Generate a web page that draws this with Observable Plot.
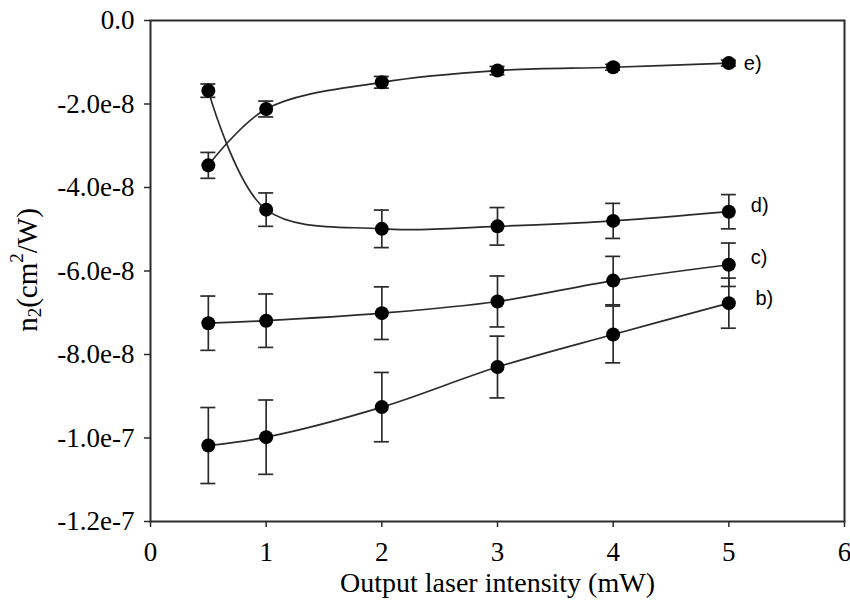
<!DOCTYPE html>
<html>
<head>
<meta charset="utf-8">
<script src="https://cdn.jsdelivr.net/npm/d3@7"></script>
<script src="https://cdn.jsdelivr.net/npm/@observablehq/plot@0.6"></script>
<style>
  html, body { margin: 0; padding: 0; background: #fff; }
</style>
</head>
<body>
<div id="chart"></div>
<script>
// Output laser intensity (mW)
const intensity = [0.5, 1, 2, 3, 4, 5];

// n2 values (cm^2/W) and error half-widths for each series
const seriesB = [-1.018e-7, -9.98e-8, -9.26e-8, -8.30e-8, -7.52e-8, -6.77e-8];
const errB    = [9.1e-9, 8.9e-9, 8.3e-9, 7.4e-9, 6.8e-9, 6.0e-9];
const seriesC = [-7.25e-8, -7.19e-8, -7.01e-8, -6.73e-8, -6.23e-8, -5.85e-8];
const errC    = [6.5e-9, 6.4e-9, 6.3e-9, 6.1e-9, 5.8e-9, 5.2e-9];
const seriesD = [-1.68e-8, -4.53e-8, -4.99e-8, -4.93e-8, -4.80e-8, -4.58e-8];
const errD    = [1.6e-9, 4.0e-9, 4.5e-9, 4.5e-9, 4.2e-9, 4.1e-9];
const seriesE = [-3.47e-8, -2.12e-8, -1.48e-8, -1.20e-8, -1.12e-8, -1.02e-8];
const errE    = [3.1e-9, 1.9e-9, 1.4e-9, 1.0e-9, 0.7e-9, 0.7e-9];

const seriesNames = ["b)", "c)", "d)", "e)"];
// label anchor positions (data units)
const labelX = [5.23, 5.19, 5.19, 5.13];
const labelY = [-6.66e-8, -5.69e-8, -4.43e-8, -1.03e-8];

const yTicks = [0, -2e-8, -4e-8, -6e-8, -8e-8, -1e-7, -1.2e-7];
const xTicks = [0, 1, 2, 3, 4, 5, 6];

const allSeries = [seriesB, seriesC, seriesD, seriesE];
const allErr = [errB, errC, errD, errE];
const rows = [];
allSeries.forEach((vals, si) => {
  vals.forEach((v, i) => {
    rows.push({series: seriesNames[si], x: intensity[i], y: v, e: allErr[si][i]});
  });
});
const labels = seriesNames.map((n, i) => ({name: n, x: labelX[i], y: labelY[i]}));

const capHalf = 0.065;
const ink = "#2b2b2b";
const serif = "'Liberation Serif', 'Times New Roman', serif";

const chart = Plot.plot({
  width: 850,
  height: 607,
  marginLeft: 150,
  marginRight: 6,
  marginTop: 20,
  marginBottom: 86,
  style: {fontFamily: serif, fontSize: "27px", background: "#fff", color: "#000"},
  x: {domain: [0, 6], ticks: xTicks},
  y: {domain: [-1.2e-7, 0], ticks: yTicks},
  marks: [
    Plot.axisX({ticks: xTicks, tickSize: 6, tickPadding: 14, tickFormat: d => String(d), label: null, stroke: ink, strokeWidth: 1.5, fontSize: 27, fontFamily: serif, fontVariant: "normal"}),
    Plot.axisY({ticks: yTicks, tickSize: 6, tickPadding: 10, tickFormat: d => d === 0 ? "0.0" : d.toExponential(1), label: null, stroke: ink, strokeWidth: 1.5, fontSize: 27, fontFamily: serif, fontVariant: "normal"}),
    Plot.frame({stroke: ink, strokeWidth: 2}),
    Plot.line(rows, {x: "x", y: "y", z: "series", curve: "catmull-rom", stroke: ink, strokeWidth: 1.7}),
    Plot.ruleX(rows, {x: "x", y1: d => d.y - d.e, y2: d => d.y + d.e, stroke: ink, strokeWidth: 1.7}),
    Plot.ruleY(rows, {y: d => d.y - d.e, x1: d => d.x - capHalf, x2: d => d.x + capHalf, stroke: ink, strokeWidth: 1.7}),
    Plot.ruleY(rows, {y: d => d.y + d.e, x1: d => d.x - capHalf, x2: d => d.x + capHalf, stroke: ink, strokeWidth: 1.7}),
    Plot.dot(rows, {x: "x", y: "y", r: 7, fill: "#000", stroke: "none"}),
    Plot.text(labels, {x: "x", y: "y", text: "name", textAnchor: "start", fontSize: 20, fontFamily: "'Liberation Sans', Arial, sans-serif", fill: "#000"}),
    Plot.text(["Output laser intensity (mW)"], {frameAnchor: "bottom", dy: 70, fontSize: 28, fontFamily: serif, fill: "#000"})
  ]
});

document.getElementById("chart").appendChild(chart);

const svg = d3.select(chart);
// force serif tick labels
svg.selectAll('g[aria-label="x-axis tick label"], g[aria-label="y-axis tick label"]')
  .style("font-family", serif)
  .selectAll("text")
  .style("font-family", serif)
  .style("font-variant-numeric", "normal");

// Y axis title with subscript and superscript
const t = svg.append("text")
  .attr("transform", "translate(30,270) rotate(-90)")
  .attr("text-anchor", "middle")
  .attr("dominant-baseline", "middle")
  .attr("font-family", serif)
  .attr("font-size", 29)
  .attr("fill", "#000");
t.append("tspan").text("n");
t.append("tspan").attr("font-size", 19).attr("dy", 7).text("2");
t.append("tspan").attr("dy", -7).text("(cm");
t.append("tspan").attr("font-size", 19).attr("dy", -11).text("2");
t.append("tspan").attr("dy", 11).text("/W)");
</script>
</body>
</html>
